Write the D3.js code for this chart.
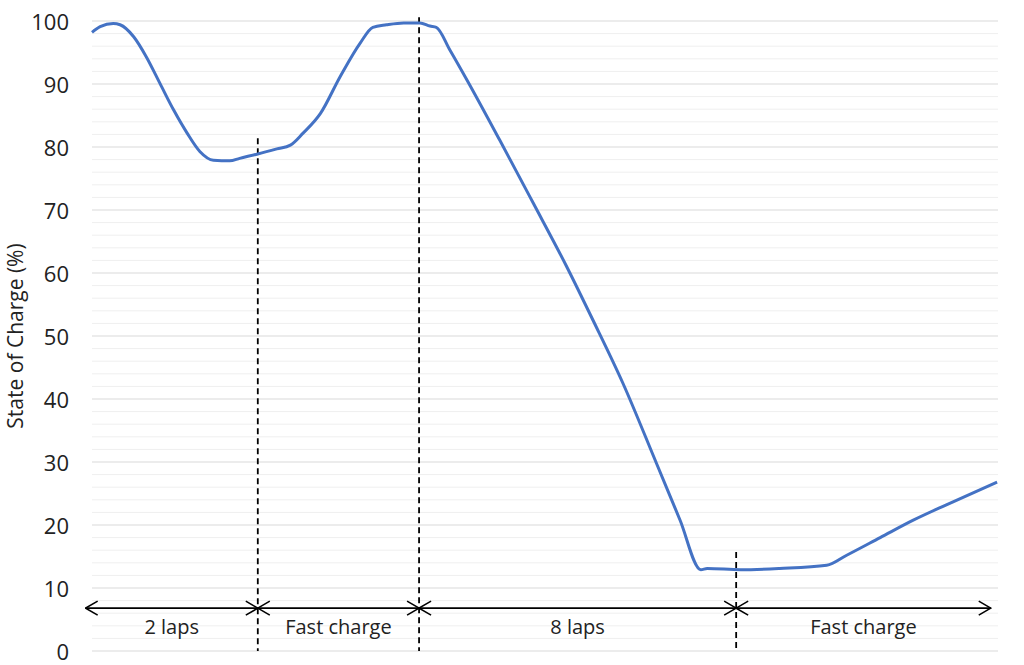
<!doctype html>
<html lang="en">
    <head>
        <meta charset="UTF-8" />
        <title>State of Charge</title>
        <script src="https://d3js.org/d3.v7.min.js"></script>
        <style>
            body {
                margin: 0;
                background: #fff;
                font-family: "Open Sans", sans-serif;
            }
            .tick text {
                font-family: "Open Sans", sans-serif;
                font-size: 22px;
                fill: #222;
            }
        </style>
    </head>
    <body>
        <svg id="chart" width="1024" height="665"></svg>
        <script>
            // time (arbitrary units, 0-100) and state of charge (%)
            const time = [
                0, 0.9, 2.35, 3.1, 4.6, 6.0, 7.5, 9.0, 10.5, 11.9, 13.4, 15.2,
                16.3, 18.3, 20.4, 21.9, 23.3, 25.2, 27.4, 29.6, 31.0, 32.5,
                34.4, 36.2, 37.3, 38.0, 39.5, 41.4, 45.0, 48.7, 52.4, 55.3,
                58.6, 62.3, 64.9, 67.2, 67.9, 71.6, 75.9, 81.1, 83.3, 87.0,
                90.7, 94.3, 99.9,
            ];
            const soc = [
                98.2, 99.1, 99.6, 99.4, 97.5, 94.3, 90.1, 85.9, 82.2, 79.3,
                77.9, 77.8, 78.2, 78.9, 79.7, 80.3, 82.2, 85.3, 91.2, 96.5,
                99.0, 99.4, 99.7, 99.7, 99.2, 99.0, 95.4, 90.6, 81.1, 71.1,
                61.0, 52.5, 42.5, 29.8, 20.8, 12.9, 13.1, 12.9, 13.1, 13.6,
                15.2, 18.0, 20.8, 23.2, 26.8,
            ];

            // phases along the bottom
            const phaseBounds = [-0.7, 18.3, 36.1, 71.1, 99.2];
            const phaseLabels = ["2 laps", "Fast charge", "8 laps", "Fast charge"];
            const dividerTops = [81.4, 100.6, 15.7];
            const arrowLevel = 6.8;
            const labelLevel = 3.8;

            const yTicks = [0, 10, 20, 30, 40, 50, 60, 70, 80, 90, 100];

            const svg = d3.select("#chart");
            const margin = { top: 21, right: 26, bottom: 14, left: 92 };
            const width = +svg.attr("width");
            const height = +svg.attr("height");

            const x = d3
                .scaleLinear()
                .domain([0, 100])
                .range([margin.left, width - margin.right]);

            const y = d3
                .scaleLinear()
                .domain([0, 100])
                .range([height - margin.bottom, margin.top]);

            // minor gridlines
            svg.append("g")
                .selectAll("line")
                .data(d3.range(0, 101, 2).filter((v) => v % 10 !== 0))
                .join("line")
                .attr("x1", x(0))
                .attr("x2", x(100))
                .attr("y1", (d) => y(d))
                .attr("y2", (d) => y(d))
                .attr("stroke", "#efefef")
                .attr("stroke-width", 1);

            // major gridlines
            svg.append("g")
                .selectAll("line")
                .data(yTicks)
                .join("line")
                .attr("x1", x(0))
                .attr("x2", x(100))
                .attr("y1", (d) => y(d))
                .attr("y2", (d) => y(d))
                .attr("stroke", "#d9d9d9")
                .attr("stroke-width", 1);

            // y axis labels
            svg.append("g")
                .attr("transform", `translate(${margin.left - 23},1)`)
                .call(d3.axisLeft(y).tickValues(yTicks).tickSize(0).tickPadding(0))
                .call((g) => g.select(".domain").remove());

            svg.append("text")
                .attr("transform", `translate(23,${(y(0) + y(100)) / 2}) rotate(-90)`)
                .attr("text-anchor", "middle")
                .style("font-size", "21px")
                .attr("fill", "#222")
                .text("State of Charge (%)");

            // dashed dividers
            svg.append("g")
                .selectAll("line")
                .data(dividerTops)
                .join("line")
                .attr("x1", (d, i) => x(phaseBounds[i + 1]))
                .attr("x2", (d, i) => x(phaseBounds[i + 1]))
                .attr("y1", (d) => y(d))
                .attr("y2", y(0))
                .attr("stroke", "#000")
                .attr("stroke-width", 1.8)
                .attr("stroke-dasharray", "6,4");

            // the curve
            const line = d3
                .line()
                .x((d, i) => x(time[i]))
                .y((d) => y(d))
                .curve(d3.curveMonotoneX);

            svg.append("path")
                .datum(soc)
                .attr("fill", "none")
                .attr("stroke", "#4472c4")
                .attr("stroke-width", 3)
                .attr("stroke-linejoin", "round")
                .attr("d", line);

            // double arrows for each phase
            svg.append("defs")
                .append("marker")
                .attr("id", "head")
                .attr("viewBox", "0 0 14 16")
                .attr("refX", 13)
                .attr("refY", 8)
                .attr("markerWidth", 14)
                .attr("markerHeight", 16)
                .attr("markerUnits", "userSpaceOnUse")
                .attr("orient", "auto-start-reverse")
                .append("path")
                .attr("d", "M1,1 L13,8 L1,15")
                .attr("fill", "none")
                .attr("stroke", "#000")
                .attr("stroke-width", 1.6);

            const phases = phaseLabels.map((label, i) => ({
                label,
                from: phaseBounds[i],
                to: phaseBounds[i + 1],
            }));

            svg.append("g")
                .selectAll("line")
                .data(phases)
                .join("line")
                .attr("x1", (d) => x(d.from))
                .attr("x2", (d) => x(d.to))
                .attr("y1", y(arrowLevel))
                .attr("y2", y(arrowLevel))
                .attr("stroke", "#000")
                .attr("stroke-width", 1.6)
                .attr("marker-start", "url(#head)")
                .attr("marker-end", "url(#head)");

            svg.append("g")
                .selectAll("text")
                .data(phases)
                .join("text")
                .attr("x", (d) => x((d.from + d.to) / 2))
                .attr("y", y(labelLevel))
                .attr("dy", "0.35em")
                .attr("text-anchor", "middle")
                .style("font-size", "20px")
                .attr("fill", "#222")
                .text((d) => d.label);
        </script>
    </body>
</html>
